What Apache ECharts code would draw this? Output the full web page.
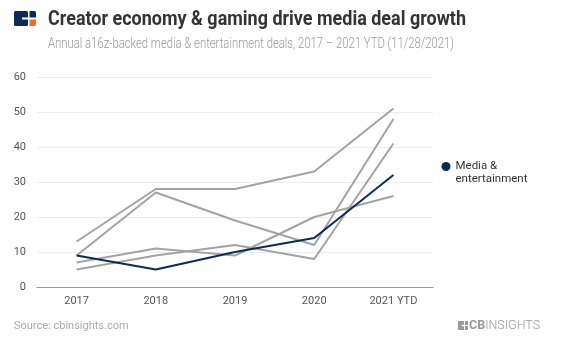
<!DOCTYPE html>
<html>
<head>
<meta charset="utf-8">
<style>
html,body{margin:0;padding:0;background:#fff;}
#chart{width:578px;height:343px;}
</style>
<script src="https://cdn.jsdelivr.net/npm/echarts@6/dist/echarts.min.js"></script>
</head>
<body>
<div id="chart"></div>
<script>
const categories = ['2017', '2018', '2019', '2020', '2021 YTD'];
const mediaEntertainment = [9, 5, 10, 14, 32];
const grayA = [13, 28, 28, 33, 51];
const grayB = [9, 27, 19, 12, 48];
const grayC = [7, 11, 9, 20, 26];
const grayD = [5, 9, 12, 8, 41];
const yTicks = [0, 10, 20, 30, 40, 50, 60];

const titleText = 'Creator economy & gaming drive media deal growth';
const subtitleText = 'Annual a16z-backed media & entertainment deals, 2017 \u2013 2021 YTD (11/28/2021)';

const FONT = "Roboto, sans-serif";

function fitScale(text, font, target) {
  const c = document.createElement('canvas').getContext('2d');
  c.font = font;
  const w = c.measureText(text).width;
  return target / w;
}
const titleFont = 'bold 20px Roboto';
const subFont = '300 14px Roboto';
const titleScale = fitScale(titleText, titleFont, 418);
const subScale = fitScale(subtitleText, subFont, 406);

const chart = echarts.init(document.getElementById('chart'));

function grayLine(name, data) {
  return {
    name: name, type: 'line', data: data, symbol: 'none', silent: true,
    lineStyle: { color: '#a3a3a3', width: 2 }, itemStyle: { color: '#a3a3a3' }, z: 2
  };
}

chart.setOption({
  animation: false,
  grid: { left: 37, right: 145, top: 77, bottom: 56 },
  legend: {
    data: ['Media & entertainment'],
    left: 441.5, top: 147, orient: 'vertical', padding: 0,
    icon: 'circle', itemWidth: 9, itemHeight: 9, itemGap: 4,
    formatter: function () { return '\nMedia &\nentertainment'; },
    textStyle: { fontFamily: FONT, fontSize: 11.5, color: '#333', lineHeight: 13 }
  },
  xAxis: {
    type: 'category', data: categories, boundaryGap: true,
    axisLine: { lineStyle: { color: '#9a9a9a', width: 1 } },
    axisTick: { show: false },
    axisLabel: { color: '#555', fontFamily: FONT, fontSize: 11, margin: 9 }
  },
  yAxis: {
    type: 'value', min: yTicks[0], max: yTicks[yTicks.length - 1], interval: 10,
    axisLine: { show: false }, axisTick: { show: false },
    splitLine: { lineStyle: { color: '#ececec', width: 1 } },
    axisLabel: { color: '#555', fontFamily: FONT, fontSize: 11, margin: 11 }
  },
  series: [
    grayLine('A', grayA),
    grayLine('B', grayB),
    grayLine('C', grayC),
    grayLine('D', grayD),
    {
      name: 'Media & entertainment', type: 'line', data: mediaEntertainment, symbol: 'none',
      lineStyle: { color: '#0b2a57', width: 2 }, itemStyle: { color: '#0b2a57' }, z: 3
    }
  ],
  graphic: [
    { type: 'rect', shape: { x: 14, y: 11, width: 14, height: 15, r: 1.5 }, style: { fill: '#0b2a57' } },
    { type: 'rect', shape: { x: 22, y: 17.5, width: 6, height: 2 }, style: { fill: '#ffffff' } },
    { type: 'rect', shape: { x: 29.5, y: 11, width: 6.5, height: 6.5, r: [0, 1.5, 0, 0] }, style: { fill: '#0b2a57' } },
    { type: 'rect', shape: { x: 29.5, y: 19.5, width: 6.5, height: 6.5, r: [0, 0, 1.5, 0] }, style: { fill: '#f26b2a' } },
    { type: 'text', x: 48, y: 20, scaleX: titleScale, style: { text: titleText, font: titleFont, fill: '#333333', textVerticalAlign: 'middle' } },
    { type: 'text', x: 48, y: 44.5, scaleX: subScale, style: { text: subtitleText, font: subFont, fill: '#999999', textVerticalAlign: 'middle' } },
    { type: 'text', x: 14, y: 326.5, style: { text: 'Source: cbinsights.com', font: '11px Roboto', fill: '#aaaaaa', textVerticalAlign: 'middle' } },
    { type: 'rect', shape: { x: 458, y: 321, width: 6, height: 9 }, style: { fill: '#9a9a9a' } },
    { type: 'rect', shape: { x: 461.5, y: 324.8, width: 2.5, height: 1.4 }, style: { fill: '#ffffff' } },
    { type: 'rect', shape: { x: 465, y: 321, width: 3, height: 4 }, style: { fill: '#9a9a9a' } },
    { type: 'rect', shape: { x: 465, y: 326, width: 3, height: 4 }, style: { fill: '#9a9a9a' } },
    { type: 'text', x: 469, y: 325.5, style: {
        text: '{b|CB}{n|INSIGHTS}', textVerticalAlign: 'middle',
        rich: {
          b: { fontFamily: 'Roboto', fontWeight: 'bold', fontSize: 12.5, fill: '#999999', color: '#999999' },
          n: { fontFamily: 'Roboto', fontWeight: 300, fontSize: 12.5, fill: '#999999', color: '#999999' }
        }
      } }
  ]
});
</script>
</body>
</html>
